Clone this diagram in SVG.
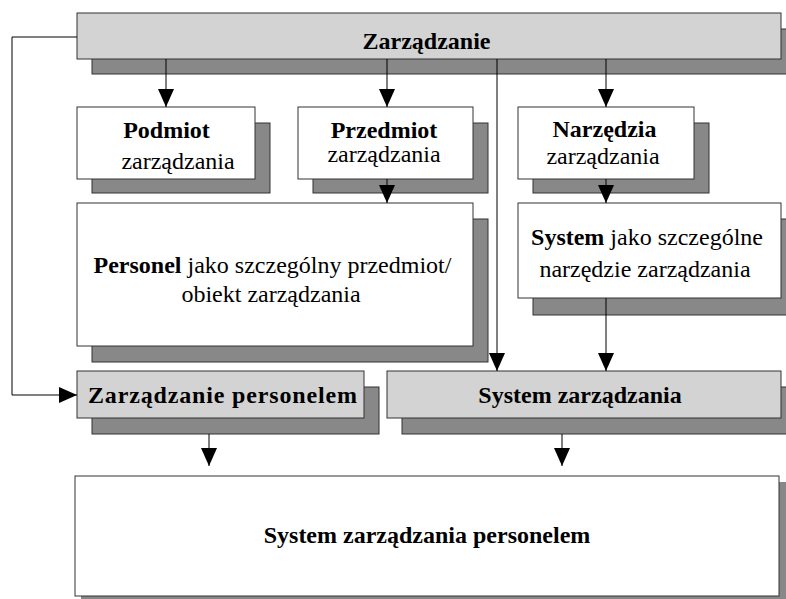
<svg xmlns="http://www.w3.org/2000/svg" width="786" height="599" viewBox="0 0 786 599">
<defs>
<marker id="ah" markerUnits="userSpaceOnUse" markerWidth="18" markerHeight="18" refX="18" refY="8" orient="auto" viewBox="0 0 18 16">
<path d="M0,0 L18,8 L0,16 z" fill="#000"/>
</marker>
<style>
.sh{fill:#888888;stroke:#333;stroke-width:1}
.bw{fill:#ffffff;stroke:#333;stroke-width:1}
.bg{fill:#d3d3d3;stroke:#333;stroke-width:1}
.c{fill:none;stroke:#000;stroke-width:1}
.ca{fill:none;stroke:#000;stroke-width:1;marker-end:url(#ah)}
text{font-family:"Liberation Serif","Times New Roman",serif;font-size:24px;fill:#000;text-anchor:middle}
.b{font-weight:bold}
</style>
</defs>
<rect width="786" height="599" fill="#fff"/>

<g id="zarzadzanie">
<rect class="sh" x="92" y="29" width="704" height="45"/>
<rect class="bg" x="77" y="13" width="704" height="46"/>
<text class="b" x="426.5" y="49">Zarządzanie</text>
</g>

<g id="podmiot">
<rect class="sh" x="92" y="123" width="178" height="70"/>
<rect class="bw" x="77" y="107" width="178" height="72"/>
<text class="b" x="166.5" y="138">Podmiot</text>
<text x="178" y="169">zarządzania</text>
</g>

<g id="przedmiot">
<rect class="sh" x="313" y="123" width="175" height="70"/>
<rect class="bw" x="298" y="107" width="175" height="72"/>
<text class="b" x="384" y="138">Przedmiot</text>
<text x="384" y="161.5">zarządzania</text>
</g>

<g id="narzedzia">
<rect class="sh" x="533" y="123" width="176" height="70"/>
<rect class="bw" x="518" y="107" width="176" height="72"/>
<text class="b" x="604.5" y="137">Narzędzia</text>
<text x="603" y="163.5">zarządzania</text>
</g>

<g id="personel">
<rect class="sh" x="92" y="219" width="396" height="143"/>
<rect class="bw" x="77" y="203" width="396" height="143"/>
<text x="272.5" y="273"><tspan class="b">Personel</tspan> jako szczególny przedmiot/</text>
<text x="271" y="302">obiekt zarządzania</text>
</g>

<g id="system">
<rect class="sh" x="533" y="219" width="263" height="96"/>
<rect class="bw" x="518" y="203" width="263" height="95"/>
<text x="647" y="245"><tspan class="b">System</tspan> jako szczególne</text>
<text x="645" y="277">narzędzie zarządzania</text>
</g>

<g id="zarzadzanie-personelem">
<rect class="sh" x="92" y="387" width="287" height="47"/>
<rect class="bg" x="77" y="371" width="287" height="47"/>
<text class="b" x="222.5" y="403" textLength="269" lengthAdjust="spacing">Zarządzanie personelem</text>
</g>

<g id="system-zarzadzania">
<rect class="sh" x="402" y="387" width="394" height="47"/>
<rect class="bg" x="387" y="371" width="394" height="47"/>
<text class="b" x="580" y="403">System zarządzania</text>
</g>

<g id="system-zarzadzania-personelem">
<rect x="81" y="482" width="710" height="125" fill="#888888"/>
<rect class="bw" x="75" y="476" width="704" height="120"/>
<text class="b" x="427" y="543">System zarządzania personelem</text>
</g>

<g id="connectors">
<path class="ca" d="M77,37 H12 V395 H77"/>
<path class="ca" d="M166,59 V107"/>
<path class="ca" d="M387,59 V107"/>
<path class="ca" d="M606,59 V107"/>
<path class="ca" d="M497,59 V371"/>
<path class="ca" d="M387,179 V203"/>
<path class="ca" d="M606,179 V203"/>
<path class="ca" d="M606,298 V371"/>
<path class="ca" d="M209,434 V466"/>
<path class="ca" d="M562,434 V466"/>
</g>
</svg>
